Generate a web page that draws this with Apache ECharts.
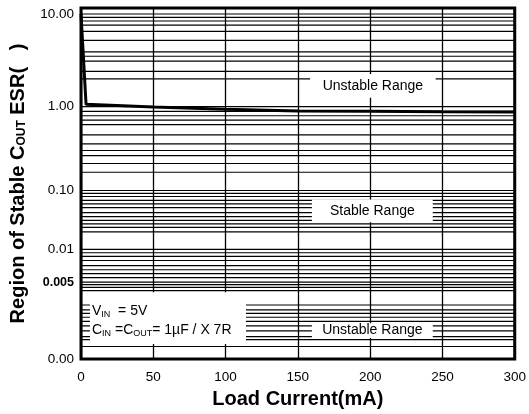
<!DOCTYPE html>
<html><head><meta charset="utf-8">
<script src="https://cdn.jsdelivr.net/npm/echarts@6/dist/echarts.min.js"></script>
<style>html,body{margin:0;padding:0;background:#fff}#c{width:529px;height:414px}</style>
</head><body><div id="c"></div>
<script>
// ---- data ----
const loadCurrent = [0, 3.5, 50, 100, 150, 200, 250, 300];
const esr = [10, 1.06, 0.99, 0.935, 0.89, 0.88, 0.87, 0.865];
const xTickInterval = 50;
const yTickValues = [0.001, 0.005, 0.01, 0.1, 1, 10];
const yTickLabels = ['0.00', '0.005', '0.01', '0.10', '1.00', '10.00'];
// axis units of each tick (the chart's own uneven ESR scale)
const yTickAxisPos = [0, 77, 110, 169, 253, 346];
const yAxisMax = 352;
// horizontal grid lines (ESR values)
const gridValues = [
  10, 9.2, 8.4, 7.6, 6.5, 5.2, 3.9, 3.5, 3.1, 2.4, 2.0, 1,
  0.88, 0.78, 0.69, 0.61, 0.46, 0.36, 0.30, 0.26, 0.21, 0.165, 0.1,
  0.089, 0.079, 0.068, 0.059, 0.051, 0.042, 0.036, 0.031, 0.027, 0.0236, 0.0198, 0.01,
  0.0093, 0.0086, 0.0079, 0.0071, 0.0065, 0.006, 0.0055, 0.005, 0.00475, 0.00448, 0.0042,
  0.0031, 0.0028, 0.0026, 0.0024, 0.0022, 0.002, 0.0018, 0.0016, 0.0015, 0.0013
];
// annotation boxes: [x from, x to] in mA, [ESR low, ESR high]
const boxTexts = [
  'Unstable Range',
  'Stable Range',
  'Unstable Range',
  '{t|V}{s|IN}{t|  = 5V}\n{t|C}{s|IN}{t| =C}{s|OUT}{t|= 1\u00b5F / X 7R}'
];
const boxX = [[158.5, 245.3], [159.7, 243.3], [159.7, 243.3], [6.2, 114.1]];
const boxY = [[1.25, 2.26], [0.0287, 0.0703], [0.00155, 0.00212], [0.00137, 0.00406]];
const boxAlign = ['center', 'center', 'center', 'left'];

// ---- scale ----
function toAxis(v) {
  const lv = Math.log10(v);
  const n = yTickValues.length;
  for (let i = 0; i < n - 1; i++) {
    const a = Math.log10(yTickValues[i]), b = Math.log10(yTickValues[i + 1]);
    if (lv <= b || i === n - 2) {
      return yTickAxisPos[i] + (lv - a) / (b - a) * (yTickAxisPos[i + 1] - yTickAxisPos[i]);
    }
  }
}

const FONT = 'Liberation Sans, Arial, sans-serif';
const chart = echarts.init(document.getElementById('c'), null, {renderer: 'canvas'});

const richBox = {
  t: {fontSize: 14, fontFamily: FONT, fill: '#000', color: '#000', lineHeight: 19},
  s: {fontSize: 9, fontFamily: FONT, fill: '#000', color: '#000', lineHeight: 19,
      verticalAlign: 'bottom', padding: [0, 0, 2, 0]}
};

chart.setOption({
  animation: false,
  backgroundColor: '#fff',
  grid: {left: 78, right: 12, top: 8, bottom: 54, show: true,
         borderColor: '#000', borderWidth: 3, backgroundColor: 'transparent'},
  xAxis: {
    type: 'value', min: 0, max: 300, interval: xTickInterval,
    axisLine: {show: false}, axisTick: {show: false},
    splitLine: {show: true, lineStyle: {color: '#000', width: 1.3}},
    axisLabel: {color: '#000', fontSize: 13.5, fontFamily: FONT, margin: 11},
    name: 'Load Current(mA)', nameLocation: 'middle', nameGap: 30,
    nameTextStyle: {color: '#000', fontSize: 20, fontWeight: 'bold', fontFamily: FONT}
  },
  yAxis: {
    type: 'value', min: 0, max: yAxisMax,
    axisLine: {show: false}, axisTick: {show: false}, splitLine: {show: false},
    axisLabel: {
      customValues: yTickAxisPos,
      color: '#000', fontSize: 13.5, fontFamily: FONT, margin: 7,
      formatter: function (v) {
        let idx = 0, best = 1e9;
        yTickAxisPos.forEach((p, i) => { if (Math.abs(p - v) < best) { best = Math.abs(p - v); idx = i; } });
        const s = yTickLabels[idx];
        return s === '0.005' ? '{b|' + s + '}' : s;
      },
      rich: {b: {fontSize: 12.5, fontWeight: 'bold', fontFamily: FONT, color: '#000'}}
    },
    name: '{a|Region of Stable C}{b|OUT}{a| ESR(   )}',
    nameLocation: 'middle', nameGap: 52,
    nameTextStyle: {
      color: '#000', fontFamily: FONT,
      rich: {
        a: {fontSize: 20, fontWeight: 'bold', fontFamily: FONT, color: '#000', lineHeight: 22},
        b: {fontSize: 12, fontWeight: 'bold', fontFamily: FONT, color: '#000', lineHeight: 22,
            verticalAlign: 'bottom', padding: [0, 0, 1, 0]}
      }
    }
  },
  series: [
    {
      type: 'custom', z: 2, silent: true,
      data: gridValues.map(v => [0, toAxis(v)]),
      encode: {x: 0, y: 1},
      renderItem: function (params, api) {
        const y = api.coord([0, api.value(1)])[1];
        const cs = params.coordSys;
        return {type: 'line',
          shape: {x1: cs.x, y1: y, x2: cs.x + cs.width, y2: y},
          style: {stroke: '#000', lineWidth: 1.2}};
      }
    },
    {
      type: 'custom', z: 3, silent: true,
      data: boxTexts.map((t, i) => [boxX[i][0], toAxis(boxY[i][0]), boxX[i][1], toAxis(boxY[i][1]), i]),
      encode: {x: [0, 2], y: [1, 3]},
      renderItem: function (params, api) {
        const p1 = api.coord([api.value(0), api.value(1)]);
        const p2 = api.coord([api.value(2), api.value(3)]);
        const i = api.value(4);
        const x = Math.min(p1[0], p2[0]), y = Math.min(p1[1], p2[1]);
        const w = Math.abs(p2[0] - p1[0]), h = Math.abs(p2[1] - p1[1]);
        const left = boxAlign[i] === 'left';
        return {type: 'group', children: [
          {type: 'rect', shape: {x: x, y: y, width: w, height: h}, style: {fill: '#fff'}},
          {type: 'text', style: {
            text: boxTexts[i], x: left ? x + 2 : x + w / 2, y: y + h / 2 + (left ? 3 : 0),
            align: left ? 'left' : 'center', verticalAlign: 'middle',
            fill: '#000', fontSize: 14, fontFamily: FONT, rich: richBox}}
        ]};
      }
    },
    {
      type: 'line', z: 4, silent: true,
      data: loadCurrent.map((x, i) => [x, toAxis(esr[i])]),
      symbol: 'none',
      lineStyle: {color: '#000', width: 3}
    }
  ]
});
</script>
</body></html>
